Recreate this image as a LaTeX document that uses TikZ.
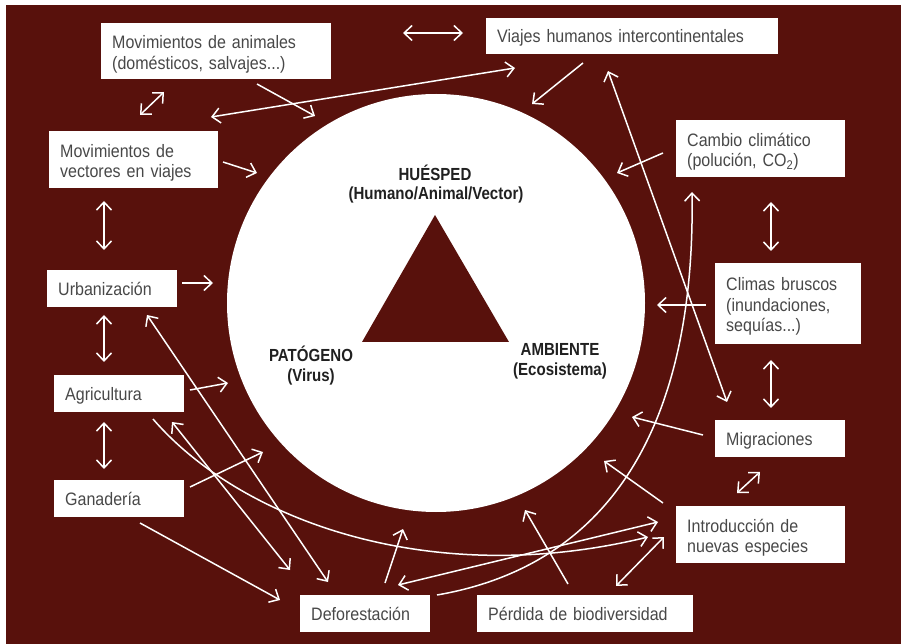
\documentclass[tikz,border=0pt]{standalone}
\usepackage{fontspec}
\setmainfont{Liberation Sans}
\newfontfamily\boxfont[FakeStretch=0.89]{Liberation Sans}
\newfontfamily\labfont[FakeStretch=0.86]{Liberation Sans}
\usetikzlibrary{arrows.meta}
\definecolor{bg}{RGB}{88,17,12}
\definecolor{boxgray}{RGB}{72,72,72}
\definecolor{labdark}{RGB}{32,32,32}
\newcommand\myboxend{\par\kern-6pt}
\begin{document}
\begin{tikzpicture}[x=1pt,y=-1pt,
  box/.style={fill=white, draw=none, anchor=north west, inner xsep=11pt, inner ysep=0pt,
    align=left, text=boxgray, font=\boxfont\fontsize{18}{20.5}\selectfont,
    execute at end node=\myboxend},
  lab/.style={anchor=base, inner sep=0pt, text=labdark, font=\labfont\bfseries\fontsize{17.5}{20}\selectfont},
  conn/.style={draw=white, line width=1.5pt, -{Straight Barb[length=8pt,width=15pt]}},
  dconn/.style={draw=white, line width=1.5pt, {Straight Barb[length=8pt,width=15pt]}-{Straight Barb[length=8pt,width=15pt]}}
]
\useasboundingbox (0,0) rectangle (903,644);
\fill[white] (0,0) rectangle (903,644);
\fill[bg] (6,5) rectangle (901,644);

% central circle and triangle
\node[circle, fill=white, minimum size=418pt, inner sep=0pt] (circ) at (436,303) {};
\fill[bg] (435,215) -- (509,342) -- (362,342) -- cycle;
\node[lab] (hue1) at (435,181) {HUÉSPED};
\node[lab] (hue2) at (436,200) {(Humano/Animal/Vector)};
\node[lab] (pat1) at (311,362) {PATÓGENO};
\node[lab] (pat2) at (311,382) {(Virus)};
\node[lab] (amb1) at (560,356) {AMBIENTE};
\node[lab] (amb2) at (560,376) {(Ecosistema)};

% boxes
\node[box, minimum height=56pt, text width=208pt] (ma) at (101,23) {Movimientos de animales\\(domésticos, salvajes...)};
\node[box, minimum height=57pt, text width=147pt] (mv) at (49,131) {Movimientos de\\vectores en viajes};
\node[box, minimum height=36pt, text width=270pt] (vh) at (486,18) {Viajes humanos intercontinentales};
\node[box, minimum height=57pt, text width=147pt] (cc) at (676,120) {Cambio climático\\(polución, CO\textsubscript{2})};
\node[box, minimum height=37pt, text width=108pt] (ur) at (47,270) {Urbanización};
\node[box, minimum height=37pt, text width=108pt] (ag) at (54,375) {Agricultura};
\node[box, minimum height=81pt, text width=124pt] (cb) at (715,263) {Climas bruscos\\(inundaciones,\\sequías...)};
\node[box, minimum height=37pt, text width=108pt] (mi) at (715,420) {Migraciones};
\node[box, minimum height=37pt, text width=108pt] (ga) at (54,480) {Ganadería};
\node[box, minimum height=37pt, text width=108pt] (de) at (300,595) {Deforestación};
\node[box, minimum height=57pt, text width=147pt] (in) at (676,506) {Introducción de\\nuevas especies};
\node[box, minimum height=37pt, text width=194pt] (pe) at (477,595) {Pérdida de biodiversidad};

% connector end points
\coordinate (a1) at (403,33);  \coordinate (a2) at (463,33);
\coordinate (b1) at (211,117); \coordinate (b2) at (515,68);
\coordinate (c1) at (257,84);  \coordinate (c2) at (315,116);
\coordinate (d1) at (140,115); \coordinate (d2) at (164,92);
\coordinate (e1) at (223,162); \coordinate (e2) at (257,173);
\coordinate (f1) at (583,63);  \coordinate (f2) at (532,104);
\coordinate (g1) at (608,71);  \coordinate (g2) at (727,402);
\coordinate (h1) at (663,153); \coordinate (h2) at (617,173);
\coordinate (i1) at (771,202); \coordinate (i2) at (771,251);
\coordinate (j1) at (437,595); \coordinate (j2) at (692,192);
\coordinate (k1) at (706,305); \coordinate (k2) at (657,305);
\coordinate (l1) at (771,360); \coordinate (l2) at (771,408);
\coordinate (m1) at (703,435); \coordinate (m2) at (632,417);
\coordinate (n1) at (737,493); \coordinate (n2) at (760,472);
\coordinate (o1) at (663,503); \coordinate (o2) at (604,461);
\coordinate (p1) at (568,584); \coordinate (p2) at (525,510);
\coordinate (q1) at (616,586); \coordinate (q2) at (664,537);
\coordinate (r1) at (398,585); \coordinate (r2) at (658,522);
\coordinate (s1) at (153,419); \coordinate (s2) at (648,537);
\coordinate (t1) at (190,390); \coordinate (t2) at (228,383);
\coordinate (u1) at (182,283); \coordinate (u2) at (213,283);
\coordinate (v1) at (104,201); \coordinate (v2) at (104,250);
\coordinate (w1) at (104,315); \coordinate (w2) at (104,362);
\coordinate (x1) at (104,422); \coordinate (x2) at (104,469);
\coordinate (y1) at (147,315); \coordinate (y2) at (328,582);
\coordinate (z1) at (172,422); \coordinate (z2) at (290,570);
\coordinate (ga1) at (190,487); \coordinate (ga2) at (263,452);
\coordinate (gd1) at (140,523); \coordinate (gd2) at (280,600);
\coordinate (de1) at (385,583); \coordinate (de2) at (403,529);

% connectors
\draw[dconn] (a1) -- (a2);
\draw[dconn] (b1) -- (b2);
\draw[conn] (c1) -- (c2);
\draw[dconn] (d1) -- (d2);
\draw[conn] (e1) -- (e2);
\draw[conn] (f1) -- (f2);
\draw[dconn] (g1) -- (g2);
\draw[conn] (h1) -- (h2);
\draw[dconn] (i1) -- (i2);
\draw[conn] (j1) .. controls (640,560) and (695,380) .. (j2);
\draw[conn] (k1) -- (k2);
\draw[dconn] (l1) -- (l2);
\draw[conn] (m1) -- (m2);
\draw[dconn] (n1) -- (n2);
\draw[conn] (o1) -- (o2);
\draw[conn] (p1) -- (p2);
\draw[dconn] (q1) -- (q2);
\draw[dconn] (r1) -- (r2);
\draw[conn] (s1) .. controls (240,520) and (430,590) .. (s2);
\draw[conn] (t1) -- (t2);
\draw[conn] (u1) -- (u2);
\draw[dconn] (v1) -- (v2);
\draw[dconn] (w1) -- (w2);
\draw[dconn] (x1) -- (x2);
\draw[dconn] (y1) -- (y2);
\draw[dconn] (z1) -- (z2);
\draw[conn] (ga1) -- (ga2);
\draw[conn] (gd1) -- (gd2);
\draw[conn] (de1) -- (de2);
\end{tikzpicture}
\end{document}
